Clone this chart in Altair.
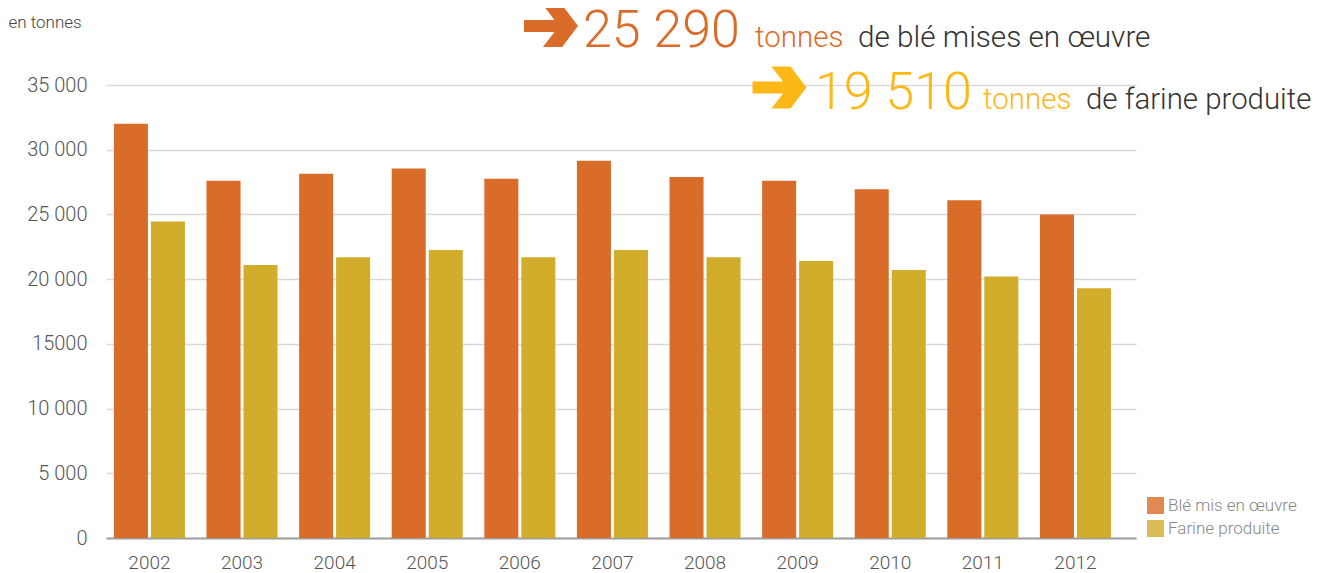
import altair as alt
import pandas as pd

years = ["2002", "2003", "2004", "2005", "2006", "2007", "2008", "2009", "2010", "2011", "2012"]
ble = [32000, 27600, 28150, 28550, 27750, 29150, 27900, 27600, 26950, 26100, 25000]
farine = [24450, 21100, 21700, 22250, 21700, 22250, 21700, 21400, 20700, 20200, 19300]
series = ["Blé mis en œuvre", "Farine produite"]
colors = ["#D96C28", "#D1AD2B"]
tick_values = [0, 5000, 10000, 15000, 20000, 25000, 30000, 35000]
tick_labels = ["0", "5 000", "10 000", "15000", "20 000", "25 000", "30 000", "35 000"]

rows = []
for y, b, f in zip(years, ble, farine):
    rows.append({"annee": y, "serie": series[0], "valeur": b})
    rows.append({"annee": y, "serie": series[1], "valeur": f})
df = pd.DataFrame(rows)

FONT = "Roboto"
label_expr = "[" + ",".join("'%s'" % t for t in tick_labels) + "][round(datum.value/5000)]"

bars = alt.Chart(df).mark_bar().encode(
    x=alt.X("annee:N", sort=years,
            scale=alt.Scale(paddingInner=0.233, paddingOuter=0.178, align=0.24),
            axis=alt.Axis(title=None, labelAngle=0, ticks=False, domain=True,
                          domainColor="#9e9e9e", domainWidth=2, grid=False,
                          labelFont=FONT, labelFontWeight=300, labelFontSize=19,
                          labelColor="#555555", labelPadding=15)),
    xOffset=alt.XOffset("serie:N", sort=series, scale=alt.Scale(paddingInner=0.08)),
    y=alt.Y("valeur:Q", scale=alt.Scale(domain=[0, 35000], nice=False),
            axis=alt.Axis(values=tick_values, labelExpr=label_expr, ticks=False,
                          domain=False, grid=True, gridColor="#d9d9d9", gridWidth=1.5,
                          labelFont=FONT, labelFontWeight=300, labelFontSize=20,
                          labelColor="#555555", labelPadding=19,
                          title="en tonnes", titleAngle=0, titleX=-98, titleY=-63,
                          titleAlign="left", titleBaseline="middle", titleFont=FONT,
                          titleFontWeight=300, titleFontSize=17, titleColor="#444444")),
    color=alt.Color("serie:N", sort=series,
                    scale=alt.Scale(domain=series, range=colors),
                    legend=alt.Legend(title=None, orient="none", legendX=1041, legendY=412,
                                      symbolType="square", symbolSize=289,
                                      symbolOpacity=0.8, symbolStrokeWidth=0,
                                      labelFont=FONT, labelFontWeight=300, labelFontSize=17,
                                      labelColor="#888888", labelOffset=4, rowPadding=5,
                                      padding=0)),
)

# headline annotation
head = pd.DataFrame({
    "t": ["25 290", "tonnes", "de blé mises en œuvre", "19 510", "tonnes", "de farine produite"],
    "k": ["n1", "u1", "r1", "n2", "u2", "r2"],
})
xpos = {"n1": 477, "u1": 649, "r1": 752, "n2": 709, "u2": 877, "r2": 980}
ypos = {"n1": -38, "u1": -38, "r1": -38, "n2": 24, "u2": 24, "r2": 24}
sizes = {"n1": 52, "u1": 29.5, "r1": 29.7, "n2": 52, "u2": 29.5, "r2": 29.4}
cols = {"n1": "#DA6C2A", "u1": "#DA6C2A", "r1": "#333333",
        "n2": "#FBB817", "u2": "#FBB817", "r2": "#333333"}

text_layers = []
for k, t in zip(head["k"], head["t"]):
    text_layers.append(
        alt.Chart(pd.DataFrame({"t": [t]})).mark_text(
            align="left", baseline="alphabetic", font=FONT, fontWeight=300,
            fontSize=sizes[k], color=cols[k]
        ).encode(text="t:N", x=alt.value(xpos[k]), y=alt.value(ypos[k]))
    )

arrow_path = "M-1,-0.22L0.13,-0.22L-0.3,-0.78L0.41,-0.78L1,0L0.41,0.78L-0.3,0.78L0.13,0.22L-1,0.22Z"
arrows = []
for ax, ay, c in [(445, -59, "#DA6C2A"), (673.5, 2.5, "#FBB817")]:
    arrows.append(
        alt.Chart(pd.DataFrame({"a": [1]})).mark_point(
            shape=arrow_path, filled=True, size=2916, color=c, opacity=1, strokeWidth=0
        ).encode(x=alt.value(ax), y=alt.value(ay))
    )

chart = alt.layer(bars, *arrows, *text_layers).properties(
    width=1030, height=453,
    autosize=alt.AutoSizeParams(type="none"),
    padding={"left": 98, "top": 77, "right": 178, "bottom": 35},
).configure_view(stroke=None)

chart.save("out.html", embed_options={"renderer": "svg", "actions": False})
